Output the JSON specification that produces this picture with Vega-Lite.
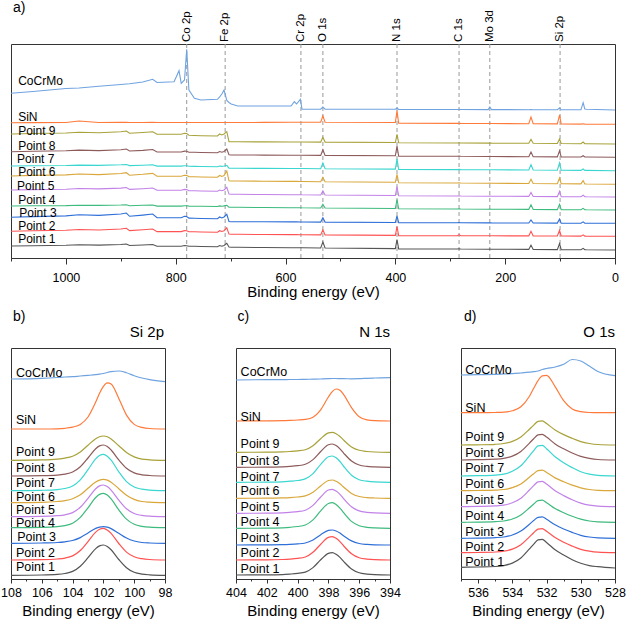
{
"$schema": "https://vega.github.io/schema/vega-lite/v6.json",
"padding": {"left": 0, "top": 0, "right": 0, "bottom": 0},
"background": "white",
"config": {
  "font": "Liberation Sans",
  "view": {"stroke": "#333", "strokeWidth": 1},
  "axis": {"grid": false, "domainColor": "#333", "tickColor": "#333", "labelColor": "#000", "titleColor": "#000", "labelFontSize": 12.5, "titleFontSize": 15, "titleFontWeight": "normal", "labelFont": "Liberation Sans", "titleFont": "Liberation Sans", "labelOverlap": false, "labelFlush": false, "labelBound": false, "format": "d", "tickCount": 60},
  "text": {"font": "Liberation Sans", "color": "#000"}
},
"datasets": {
  "a": [
    {"e":1100,"CoCrMo":164.7,"SiN":135.3,"P9":124,"P8":106.3,"P7":92,"P6":82,"P5":68,"P4":52,"P3":40.7,"P2":26.7,"P1":12},
    {"e":1060,"CoCrMo":166.5,"SiN":135.4,"P9":124.5,"P8":106.8,"P7":92.3,"P6":82.6,"P5":68.4,"P4":52.2,"P3":41.4,"P2":27.2,"P1":12.3},
    {"e":1000,"CoCrMo":169.5,"SiN":135.5,"P9":125,"P8":107.2,"P7":92.5,"P6":83.1,"P5":68.8,"P4":52.4,"P3":42.1,"P2":27.7,"P1":12.7},
    {"e":976,"CoCrMo":170,"SiN":137,"P9":125.8,"P8":107.9,"P7":92.9,"P6":84,"P5":69.5,"P4":52.8,"P3":43.3,"P2":28.5,"P1":13.2},
    {"e":940,"CoCrMo":171.8,"SiN":135.5,"P9":125.3,"P8":107.4,"P7":92.6,"P6":83.4,"P5":69.1,"P4":52.6,"P3":42.6,"P2":28,"P1":12.9},
    {"e":900,"CoCrMo":173.5,"SiN":135.6,"P9":126.3,"P8":108.3,"P7":93.2,"P6":84.5,"P5":69.9,"P4":53,"P3":44,"P2":29,"P1":13.5},
    {"e":890,"CoCrMo":174,"SiN":135.6,"P9":127,"P8":109,"P7":93.5,"P6":85.3,"P5":70.5,"P4":53.3,"P3":45,"P2":29.7,"P1":14},
    {"e":884,"CoCrMo":174.3,"SiN":135.5,"P9":124.7,"P8":107,"P7":92.4,"P6":82.8,"P5":68.6,"P4":52.3,"P3":41.7,"P2":27.4,"P1":12.5},
    {"e":860,"CoCrMo":176,"SiN":135.5,"P9":125.5,"P8":107.6,"P7":92.8,"P6":83.7,"P5":69.3,"P4":52.7,"P3":42.9,"P2":28.2,"P1":13},
    {"e":842,"CoCrMo":178.7,"SiN":135.6,"P9":126.3,"P8":108.5,"P7":93.2,"P6":84.6,"P5":70,"P4":53,"P3":44,"P2":29,"P1":13.5},
    {"e":834,"CoCrMo":175.5,"SiN":135.5,"P9":123.7,"P8":106,"P7":91.9,"P6":81.7,"P5":67.8,"P4":51.9,"P3":40.3,"P2":26.4,"P1":11.8},
    {"e":803,"CoCrMo":176.3,"SiN":135.5,"P9":123.7,"P8":106,"P7":91.9,"P6":81.7,"P5":67.8,"P4":51.9,"P3":40.3,"P2":26.4,"P1":11.8},
    {"e":794,"CoCrMo":187.3,"SiN":135.5,"P9":123.7,"P8":106,"P7":91.9,"P6":81.7,"P5":67.8,"P4":51.9,"P3":40.3,"P2":26.4,"P1":11.8},
    {"e":790,"CoCrMo":174.7,"SiN":135.5,"P9":123.7,"P8":106,"P7":91.9,"P6":81.7,"P5":67.8,"P4":51.9,"P3":40.3,"P2":26.4,"P1":11.8},
    {"e":784,"CoCrMo":178,"SiN":135.5,"P9":124.7,"P8":106.9,"P7":92.3,"P6":82.8,"P5":68.6,"P4":52.3,"P3":41.7,"P2":27.4,"P1":12.5},
    {"e":780,"CoCrMo":208.7,"SiN":135.5,"P9":124.5,"P8":106.7,"P7":92.2,"P6":82.6,"P5":68.4,"P4":52.2,"P3":41.4,"P2":27.2,"P1":12.3},
    {"e":776,"CoCrMo":168,"SiN":135.5,"P9":122.7,"P8":105.8,"P7":91.7,"P6":81.3,"P5":67.3,"P4":51.9,"P3":39.9,"P2":26.3,"P1":11.8},
    {"e":766,"CoCrMo":159.7,"SiN":135.5,"P9":122.5,"P8":105.7,"P7":91.6,"P6":81.2,"P5":67.2,"P4":51.8,"P3":39.7,"P2":26.2,"P1":11.7},
    {"e":754,"CoCrMo":158,"SiN":135.5,"P9":122.3,"P8":105.5,"P7":91.5,"P6":81,"P5":67,"P4":51.7,"P3":39.5,"P2":26,"P1":11.5},
    {"e":724,"CoCrMo":158.7,"SiN":135.5,"P9":122,"P8":105.2,"P7":91.3,"P6":80.7,"P5":66.7,"P4":51.5,"P3":39.2,"P2":25.7,"P1":11.3},
    {"e":720,"CoCrMo":161,"SiN":135.5,"P9":124,"P8":106.5,"P7":92,"P6":82.5,"P5":68,"P4":52.1,"P3":41,"P2":27.3,"P1":12.5},
    {"e":716,"CoCrMo":164,"SiN":135.5,"P9":123,"P8":105.8,"P7":91.6,"P6":81.5,"P5":67.3,"P4":51.7,"P3":40,"P2":26.5,"P1":11.8},
    {"e":712,"CoCrMo":168,"SiN":135.5,"P9":124,"P8":106.5,"P7":92,"P6":82.5,"P5":68,"P4":52.1,"P3":41,"P2":27.3,"P1":12.5},
    {"e":707,"CoCrMo":157.5,"SiN":135.5,"P9":126.3,"P8":109,"P7":92.7,"P6":87,"P5":70.7,"P4":52.7,"P3":43.7,"P2":30.3,"P1":14.7},
    {"e":703,"CoCrMo":155.5,"SiN":135.5,"P9":116.3,"P8":103.2,"P7":89.8,"P6":77.2,"P5":63.9,"P4":50.8,"P3":36.5,"P2":23.9,"P1":10.9},
    {"e":699,"CoCrMo":154,"SiN":135.5,"P9":116.2,"P8":103,"P7":89.7,"P6":77,"P5":63.7,"P4":50.7,"P3":36.3,"P2":23.7,"P1":10.7},
    {"e":687,"CoCrMo":152,"SiN":135.5,"P9":116.2,"P8":103,"P7":89.7,"P6":77,"P5":63.7,"P4":50.7,"P3":36.3,"P2":23.7,"P1":10.7},
    {"e":640,"CoCrMo":152,"SiN":135.6,"P9":116.1,"P8":102.9,"P7":89.6,"P6":76.8,"P5":63.5,"P4":50.5,"P3":36.2,"P2":23.5,"P1":10.5},
    {"e":590,"CoCrMo":152,"SiN":135.8,"P9":116,"P8":102.8,"P7":89.5,"P6":76.6,"P5":63.3,"P4":50.3,"P3":36.1,"P2":23.4,"P1":10.3},
    {"e":584,"CoCrMo":156.3,"SiN":135.8,"P9":116,"P8":102.8,"P7":89.5,"P6":76.6,"P5":63.3,"P4":50.3,"P3":36.1,"P2":23.4,"P1":10.3},
    {"e":580,"CoCrMo":154,"SiN":135.8,"P9":116,"P8":102.8,"P7":89.5,"P6":76.6,"P5":63.3,"P4":50.3,"P3":36.1,"P2":23.4,"P1":10.3},
    {"e":573,"CoCrMo":158.7,"SiN":135.8,"P9":116,"P8":102.8,"P7":89.5,"P6":76.5,"P5":63.3,"P4":50.3,"P3":36,"P2":23.3,"P1":10.2},
    {"e":570,"CoCrMo":148.7,"SiN":135.8,"P9":116,"P8":102.8,"P7":89.5,"P6":76.5,"P5":63.2,"P4":50.2,"P3":36,"P2":23.3,"P1":10.2},
    {"e":536,"CoCrMo":148.8,"SiN":135.8,"P9":115.9,"P8":102.6,"P7":89.3,"P6":76.3,"P5":63,"P4":50,"P3":35.9,"P2":23.1,"P1":10},
    {"e":532,"CoCrMo":151,"SiN":142,"P9":120.7,"P8":108.3,"P7":95,"P6":80.6,"P5":67,"P4":53.7,"P3":40.2,"P2":28.1,"P1":16},
    {"e":528,"CoCrMo":148.8,"SiN":135.7,"P9":115.9,"P8":102.6,"P7":89.3,"P6":76.3,"P5":63,"P4":50,"P3":35.9,"P2":23.1,"P1":10},
    {"e":400,"CoCrMo":148.7,"SiN":135.5,"P9":115.5,"P8":102.2,"P7":88.9,"P6":75.7,"P5":62.5,"P4":49.5,"P3":35.5,"P2":22.6,"P1":9.4},
    {"e":397,"CoCrMo":150,"SiN":147.5,"P9":123.7,"P8":111.9,"P7":99.2,"P6":83.7,"P5":71.5,"P4":58.5,"P3":42.2,"P2":31.3,"P1":18.4},
    {"e":394,"CoCrMo":148.6,"SiN":134.8,"P9":115.2,"P8":101.9,"P7":88.6,"P6":75.3,"P5":62.2,"P4":49.2,"P3":35.3,"P2":22.4,"P1":9.1},
    {"e":287,"CoCrMo":148.5,"SiN":134.6,"P9":115,"P8":101.7,"P7":88.4,"P6":75,"P5":62,"P4":49,"P3":35.2,"P2":22.3,"P1":9},
    {"e":284,"CoCrMo":148.6,"SiN":134.7,"P9":115.3,"P8":102,"P7":88.6,"P6":75.3,"P5":62.3,"P4":49.3,"P3":35.4,"P2":23.3,"P1":9.2},
    {"e":281,"CoCrMo":148.5,"SiN":134.6,"P9":115,"P8":101.7,"P7":88.4,"P6":75,"P5":62,"P4":49,"P3":35.2,"P2":22.3,"P1":9},
    {"e":231,"CoCrMo":148.4,"SiN":134.5,"P9":114.9,"P8":101.5,"P7":88.2,"P6":74.8,"P5":61.8,"P4":48.8,"P3":35.1,"P2":22.2,"P1":8.8},
    {"e":228,"CoCrMo":151,"SiN":134.6,"P9":115,"P8":101.6,"P7":88.3,"P6":75,"P5":62,"P4":49,"P3":35.2,"P2":22.3,"P1":8.9},
    {"e":225,"CoCrMo":148.4,"SiN":134.5,"P9":114.9,"P8":101.5,"P7":88.2,"P6":74.8,"P5":61.8,"P4":48.8,"P3":35.1,"P2":22.2,"P1":8.8},
    {"e":157,"CoCrMo":148.3,"SiN":134.3,"P9":114.7,"P8":101.3,"P7":88,"P6":74.5,"P5":61.6,"P4":48.6,"P3":35,"P2":22.1,"P1":8.6},
    {"e":153,"CoCrMo":148.5,"SiN":141,"P9":118.7,"P8":106,"P7":93.3,"P6":78.8,"P5":65.6,"P4":53.3,"P3":38,"P2":26.8,"P1":12.9},
    {"e":149,"CoCrMo":148.3,"SiN":134.3,"P9":114.7,"P8":101.3,"P7":88,"P6":74.5,"P5":61.6,"P4":48.6,"P3":35,"P2":22.1,"P1":8.6},
    {"e":105,"CoCrMo":148.3,"SiN":134.1,"P9":114.5,"P8":101.1,"P7":87.8,"P6":74.3,"P5":61.4,"P4":48.4,"P3":34.9,"P2":22,"P1":8.4},
    {"e":101,"CoCrMo":150,"SiN":142.8,"P9":119,"P8":107.1,"P7":95.1,"P6":80,"P5":66.7,"P4":53.7,"P3":38.9,"P2":27.7,"P1":14.4},
    {"e":98,"CoCrMo":148.2,"SiN":134.1,"P9":114.5,"P8":101.1,"P7":87.8,"P6":74.3,"P5":61.4,"P4":48.4,"P3":34.9,"P2":22,"P1":8.4},
    {"e":62,"CoCrMo":148.2,"SiN":133.9,"P9":114.3,"P8":101,"P7":87.6,"P6":74.1,"P5":61.3,"P4":48.3,"P3":34.8,"P2":21.9,"P1":8.3},
    {"e":58,"CoCrMo":155.3,"SiN":134.3,"P9":116,"P8":102.3,"P7":89,"P6":77.4,"P5":62.8,"P4":49.6,"P3":36.1,"P2":23.2,"P1":9.6},
    {"e":55,"CoCrMo":149,"SiN":133.9,"P9":114.3,"P8":101,"P7":87.6,"P6":74.1,"P5":61.3,"P4":48.3,"P3":34.8,"P2":21.9,"P1":8.3},
    {"e":52,"CoCrMo":148.8,"SiN":133.8,"P9":114.3,"P8":101,"P7":87.6,"P6":74,"P5":61.2,"P4":48.2,"P3":34.8,"P2":21.8,"P1":8.2},
    {"e":0,"CoCrMo":148,"SiN":133.7,"P9":114,"P8":100.7,"P7":87.3,"P6":73.7,"P5":61,"P4":48,"P3":34.7,"P2":21.7,"P1":8}
  ],
  "b": [
    {"e":108,"CoCrMo":200,"SiN":150,"P9":118.7,"P8":103,"P7":88.3,"P6":76.3,"P5":62.3,"P4":51.3,"P3":35.7,"P2":19,"P1":3.7},
    {"e":106,"CoCrMo":200.7,"SiN":150,"P9":119.1,"P8":103.3,"P7":88.7,"P6":76.6,"P5":62.6,"P4":51.6,"P3":36,"P2":19.3,"P1":4},
    {"e":105,"CoCrMo":201.5,"SiN":150.2,"P9":119.9,"P8":103.9,"P7":89.4,"P6":77.5,"P5":63.3,"P4":52.3,"P3":36.5,"P2":20,"P1":4.6},
    {"e":104.5,"CoCrMo":202,"SiN":150.7,"P9":120.9,"P8":104.9,"P7":90.5,"P6":78.4,"P5":64.2,"P4":53.4,"P3":37.2,"P2":20.9,"P1":5.5},
    {"e":104,"CoCrMo":202.3,"SiN":151.9,"P9":122.8,"P8":107,"P7":93,"P6":80.3,"P5":66.4,"P4":55.8,"P3":38.5,"P2":23.1,"P1":7.6},
    {"e":103.5,"CoCrMo":203,"SiN":154.6,"P9":127,"P8":112.3,"P7":99.2,"P6":84.2,"P5":71.8,"P4":61.6,"P3":41.4,"P2":28.5,"P1":12.8},
    {"e":103,"CoCrMo":203.6,"SiN":162,"P9":133.8,"P8":121,"P7":109.4,"P6":90.7,"P5":80.7,"P4":71.2,"P3":46,"P2":37.4,"P1":21.3},
    {"e":102.5,"CoCrMo":204.3,"SiN":176.9,"P9":140.3,"P8":130.3,"P7":120.2,"P6":97,"P5":90.2,"P4":81.5,"P3":50.6,"P2":46.9,"P1":30.4},
    {"e":102.25,"CoCrMo":204.8,"SiN":185.7,"P9":142.3,"P8":133.1,"P7":123.5,"P6":98.9,"P5":93.1,"P4":84.6,"P3":51.9,"P2":49.7,"P1":33.1},
    {"e":102,"CoCrMo":205.5,"SiN":192.6,"P9":143,"P8":134,"P7":124.6,"P6":99.6,"P5":94,"P4":85.6,"P3":52.4,"P2":50.7,"P1":34},
    {"e":101.75,"CoCrMo":206.5,"SiN":196.1,"P9":142.3,"P8":132.5,"P7":122.8,"P6":98.9,"P5":92.4,"P4":83.9,"P3":51.9,"P2":49.1,"P1":32.5},
    {"e":101.5,"CoCrMo":207.3,"SiN":194.9,"P9":140.1,"P8":129,"P7":118.8,"P6":96.8,"P5":88.9,"P4":80.1,"P3":50.4,"P2":45.6,"P1":29.2},
    {"e":101,"CoCrMo":208,"SiN":180.6,"P9":133.3,"P8":119.1,"P7":107.2,"P6":90.3,"P5":78.8,"P4":69.1,"P3":45.7,"P2":35.5,"P1":19.5},
    {"e":100.5,"CoCrMo":206.3,"SiN":163.9,"P9":126.5,"P8":110.8,"P7":97.4,"P6":83.8,"P5":70.2,"P4":59.9,"P3":41,"P2":26.9,"P1":11.3},
    {"e":100,"CoCrMo":203.3,"SiN":154.6,"P9":122.1,"P8":106.1,"P7":92,"P6":79.6,"P5":65.5,"P4":54.7,"P3":38,"P2":22.2,"P1":6.7},
    {"e":99.5,"CoCrMo":201,"SiN":151.6,"P9":119.9,"P8":104.2,"P7":89.8,"P6":77.5,"P5":63.6,"P4":52.7,"P3":36.5,"P2":20.3,"P1":4.9},
    {"e":99,"CoCrMo":199.3,"SiN":150.5,"P9":119.2,"P8":103.5,"P7":88.8,"P6":76.8,"P5":62.8,"P4":51.8,"P3":36,"P2":19.5,"P1":4.2},
    {"e":98,"CoCrMo":197.3,"SiN":150,"P9":118.7,"P8":103,"P7":88.3,"P6":76.3,"P5":62.3,"P4":51.3,"P3":35.7,"P2":19,"P1":3.7}
  ],
  "c": [
    {"e":404,"CoCrMo":199,"SiN":158,"P9":126.7,"P8":111.7,"P7":96.7,"P6":80.7,"P5":65.7,"P4":50.7,"P3":34,"P2":19,"P1":4},
    {"e":402,"CoCrMo":199.3,"SiN":158.1,"P9":126.8,"P8":111.8,"P7":96.8,"P6":80.8,"P5":65.8,"P4":50.8,"P3":34.1,"P2":19.1,"P1":4.1},
    {"e":401,"CoCrMo":199.3,"SiN":158.3,"P9":127.1,"P8":112.2,"P7":97.2,"P6":81.1,"P5":66.2,"P4":51.2,"P3":34.3,"P2":19.5,"P1":4.4},
    {"e":400.5,"CoCrMo":199.5,"SiN":158.6,"P9":127.5,"P8":112.6,"P7":97.8,"P6":81.4,"P5":66.7,"P4":51.7,"P3":34.6,"P2":19.9,"P1":4.9},
    {"e":400,"CoCrMo":199.5,"SiN":159,"P9":128.1,"P8":113.3,"P7":98.5,"P6":82,"P5":67.4,"P4":52.5,"P3":35.1,"P2":20.6,"P1":5.6},
    {"e":399.5,"CoCrMo":199.7,"SiN":159.6,"P9":129.3,"P8":114.7,"P7":100.1,"P6":83.1,"P5":68.8,"P4":54,"P3":36,"P2":22,"P1":6.9},
    {"e":399,"CoCrMo":199.8,"SiN":161.8,"P9":133.3,"P8":119.4,"P7":105.4,"P6":86.7,"P5":73.6,"P4":59.1,"P3":39,"P2":26.7,"P1":11.4},
    {"e":398.5,"CoCrMo":200,"SiN":169.2,"P9":140.3,"P8":127.5,"P7":114.6,"P6":93.1,"P5":82,"P4":68.1,"P3":44.2,"P2":34.8,"P1":19.2},
    {"e":398,"CoCrMo":200.3,"SiN":182,"P9":146.1,"P8":134.3,"P7":122.2,"P6":98.5,"P5":89,"P4":75.5,"P3":48.6,"P2":41.6,"P1":25.6},
    {"e":397.75,"CoCrMo":200.5,"SiN":187.4,"P9":146.7,"P8":135,"P7":123,"P6":99,"P5":89.7,"P4":76.3,"P3":49,"P2":42.3,"P1":26.3},
    {"e":397.5,"CoCrMo":200.5,"SiN":190,"P9":145.3,"P8":133.4,"P7":121.2,"P6":97.7,"P5":88,"P4":74.5,"P3":48,"P2":40.7,"P1":24.7},
    {"e":397.25,"CoCrMo":200.3,"SiN":188.7,"P9":142.5,"P8":130.1,"P7":117.5,"P6":95.2,"P5":84.7,"P4":70.9,"P3":45.9,"P2":37.4,"P1":21.6},
    {"e":397,"CoCrMo":200.3,"SiN":184.2,"P9":138.7,"P8":125.7,"P7":112.5,"P6":91.7,"P5":80.1,"P4":66.1,"P3":43,"P2":33,"P1":17.4},
    {"e":396.5,"CoCrMo":200.2,"SiN":171.4,"P9":132.1,"P8":118,"P7":103.8,"P6":85.6,"P5":72.2,"P4":57.6,"P3":38.1,"P2":25.3,"P1":10},
    {"e":396,"CoCrMo":200.3,"SiN":162.2,"P9":128.7,"P8":114,"P7":99.3,"P6":82.5,"P5":68.1,"P4":53.3,"P3":35.5,"P2":21.3,"P1":6.2},
    {"e":395.5,"CoCrMo":200.7,"SiN":159.1,"P9":127.5,"P8":112.6,"P7":97.8,"P6":81.4,"P5":66.7,"P4":51.7,"P3":34.6,"P2":19.9,"P1":4.9},
    {"e":395,"CoCrMo":201,"SiN":158.3,"P9":127,"P8":112.1,"P7":97.1,"P6":81,"P5":66.1,"P4":51.1,"P3":34.2,"P2":19.3,"P1":4.3},
    {"e":394,"CoCrMo":201.3,"SiN":158,"P9":126.7,"P8":111.7,"P7":96.7,"P6":80.7,"P5":65.7,"P4":50.7,"P3":34,"P2":19,"P1":4}
  ],
  "d": [
    {"e":537,"CoCrMo":204,"SiN":166.3,"P9":134,"P8":119,"P7":103,"P6":88.3,"P5":72.3,"P4":56.7,"P3":40.7,"P2":26.3,"P1":11.7},
    {"e":536,"CoCrMo":204.3,"SiN":166.3,"P9":134.2,"P8":119.3,"P7":103.3,"P6":88.5,"P5":72.6,"P4":56.9,"P3":40.9,"P2":26.5,"P1":12},
    {"e":535,"CoCrMo":204.7,"SiN":166.5,"P9":134.7,"P8":119.8,"P7":103.9,"P6":88.9,"P5":73.1,"P4":57.4,"P3":41.4,"P2":27,"P1":12.5},
    {"e":534.5,"CoCrMo":205,"SiN":166.8,"P9":135.5,"P8":120.6,"P7":104.9,"P6":89.5,"P5":73.8,"P4":58,"P3":42,"P2":27.8,"P1":13.4},
    {"e":534,"CoCrMo":205.3,"SiN":168.2,"P9":137.6,"P8":122.9,"P7":107.7,"P6":91.4,"P5":76.2,"P4":60,"P3":44,"P2":29.9,"P1":15.9},
    {"e":533.5,"CoCrMo":206,"SiN":172.3,"P9":142,"P8":127.6,"P7":113.2,"P6":95.1,"P5":80.8,"P4":64.1,"P3":47.9,"P2":34.3,"P1":21},
    {"e":533,"CoCrMo":206.8,"SiN":182.8,"P9":149.8,"P8":135.9,"P7":123.2,"P6":101.8,"P5":89,"P4":71.2,"P3":54.8,"P2":42.1,"P1":30.1},
    {"e":532.75,"CoCrMo":207.3,"SiN":190.8,"P9":153.9,"P8":140.3,"P7":128.4,"P6":105.3,"P5":93.4,"P4":75,"P3":58.5,"P2":46.2,"P1":34.9},
    {"e":532.5,"CoCrMo":208,"SiN":198.3,"P9":157.6,"P8":144.2,"P7":133.1,"P6":108.4,"P5":97.2,"P4":78.3,"P3":61.7,"P2":49.9,"P1":39.2},
    {"e":532.25,"CoCrMo":209.5,"SiN":203.1,"P9":158.1,"P8":144.7,"P7":133.7,"P6":108.8,"P5":97.7,"P4":78.8,"P3":62.2,"P2":50.4,"P1":39.7},
    {"e":532,"CoCrMo":210.5,"SiN":203.6,"P9":155.4,"P8":141.9,"P7":130.3,"P6":106.5,"P5":94.9,"P4":76.3,"P3":59.8,"P2":47.7,"P1":36.6},
    {"e":531.5,"CoCrMo":212,"SiN":192.4,"P9":149.1,"P8":135.1,"P7":122.2,"P6":101.1,"P5":88.2,"P4":70.5,"P3":54.2,"P2":41.4,"P1":29.2},
    {"e":531,"CoCrMo":214.7,"SiN":178.4,"P9":144.4,"P8":130.2,"P7":116.3,"P6":97.2,"P5":83.4,"P4":66.3,"P3":50,"P2":36.7,"P1":23.9},
    {"e":530.5,"CoCrMo":219.5,"SiN":170.1,"P9":140.6,"P8":126,"P7":111.4,"P6":93.9,"P5":79.2,"P4":62.7,"P3":46.6,"P2":32.9,"P1":19.3},
    {"e":530,"CoCrMo":218,"SiN":167.4,"P9":137.4,"P8":122.6,"P7":107.3,"P6":91.2,"P5":75.9,"P4":59.8,"P3":43.7,"P2":29.7,"P1":15.7},
    {"e":529.5,"CoCrMo":213,"SiN":166.5,"P9":135.5,"P8":120.6,"P7":104.9,"P6":89.5,"P5":73.8,"P4":58,"P3":42,"P2":27.8,"P1":13.4},
    {"e":529,"CoCrMo":207.5,"SiN":166.3,"P9":134.5,"P8":119.5,"P7":103.6,"P6":88.7,"P5":72.8,"P4":57.1,"P3":41.1,"P2":26.8,"P1":12.3},
    {"e":528,"CoCrMo":203.3,"SiN":166.3,"P9":134,"P8":119,"P7":103,"P6":88.3,"P5":72.3,"P4":56.7,"P3":40.7,"P2":26.3,"P1":11}
  ],
  "pk": [
    {"e":780,"t":"Co 2p"},{"e":710,"t":"Fe 2p"},{"e":572,"t":"Cr 2p"},{"e":532,"t":"O 1s"},
    {"e":397,"t":"N 1s"},{"e":284,"t":"C 1s"},{"e":228,"t":"Mo 3d"},{"e":100,"t":"Si 2p"}
  ],
  "la": [
    {"t":"CoCrMo","e":1087,"v":177.3},{"t":"SiN","e":1087,"v":140.7},{"t":"Point 9","e":1087,"v":127.3},
    {"t":"Point 8","e":1087,"v":112.3},{"t":"Point 7","e":1089,"v":99},{"t":"Point 6","e":1087,"v":86},
    {"t":"Point 5","e":1089,"v":72},{"t":"Point 4","e":1087,"v":58.5},{"t":"Point 3","e":1085,"v":45.5},
    {"t":"Point 2","e":1087,"v":32},{"t":"Point 1","e":1087,"v":19}
  ],
  "lb": [
    {"t":"CoCrMo","e":107.68,"v":205.7},{"t":"SiN","e":107.68,"v":159},{"t":"Point 9","e":107.68,"v":127.3},
    {"t":"Point 8","e":107.68,"v":110.7},{"t":"Point 7","e":107.68,"v":96.3},{"t":"Point 6","e":107.68,"v":81.7},
    {"t":"Point 5","e":107.68,"v":69},{"t":"Point 4","e":107.68,"v":56.3},{"t":"Point 3","e":107.6,"v":41.7},
    {"t":"Point 2","e":107.68,"v":25.7},{"t":"Point 1","e":107.68,"v":11.7}
  ],
  "lc": [
    {"t":"CoCrMo","e":403.7,"v":206.7},{"t":"SiN","e":403.7,"v":162.3},{"t":"Point 9","e":403.7,"v":134.7},
    {"t":"Point 8","e":403.7,"v":118},{"t":"Point 7","e":403.7,"v":102.3},{"t":"Point 6","e":403.7,"v":88},
    {"t":"Point 5","e":403.7,"v":72.3},{"t":"Point 4","e":403.7,"v":56.7},{"t":"Point 3","e":403.7,"v":40.7},
    {"t":"Point 2","e":403.7,"v":25.7},{"t":"Point 1","e":403.7,"v":9.7}
  ],
  "ld": [
    {"t":"CoCrMo","e":536.75,"v":209},{"t":"SiN","e":536.75,"v":170.7},{"t":"Point 9","e":536.75,"v":142.3},
    {"t":"Point 8","e":536.75,"v":126.3},{"t":"Point 7","e":536.75,"v":110.7},{"t":"Point 6","e":536.75,"v":94.7},
    {"t":"Point 5","e":536.75,"v":79},{"t":"Point 4","e":536.75,"v":63.3},{"t":"Point 3","e":536.75,"v":47.3},
    {"t":"Point 2","e":536.75,"v":32.3},{"t":"Point 1","e":536.75,"v":17.3}
  ]
},
"vconcat": [
  {
    "width": 604, "height": 214,
    "layer": [
      {
        "data": {"name": "pk"},
        "mark": {"type": "rule", "color": "#999", "strokeWidth": 1, "strokeDash": [4, 3]},
        "encoding": {"x": {"field": "e", "type": "quantitative"}}
      },
      {
        "data": {"name": "a"},
        "transform": [{"fold": ["CoCrMo","SiN","P9","P8","P7","P6","P5","P4","P3","P2","P1"], "as": ["s","v"]}],
        "mark": {"type": "line", "strokeWidth": 1.1, "clip": true},
        "encoding": {
          "x": {"field": "e", "type": "quantitative", "scale": {"domain": [0, 1100], "reverse": true, "nice": false, "zero": false},
                "axis": {"values": [1100,1000,900,800,700,600,500,400,300,200,100,0], "format": "d", "labelOverlap": false, "labelFlush": false, "tickCount": 60,
                         "labelExpr": "datum.value % 200 === 0 ? datum.label : ''",
                         "tickSize": {"condition": {"test": "datum.value % 200 === 0", "value": 6}, "value": 3},
                         "labelPadding": 7, "title": "Binding energy (eV)", "titlePadding": 1}},
          "y": {"field": "v", "type": "quantitative", "scale": {"domain": [0, 214], "nice": false, "zero": false}, "axis": null},
          "color": {"field": "s", "type": "nominal", "legend": null,
                    "scale": {"domain": ["CoCrMo","SiN","P9","P8","P7","P6","P5","P4","P3","P2","P1"],
                              "range": ["#6fa3e0","#ff7a3a","#a8a23a","#8d5b5b","#3ad6cf","#d9a73a","#c282e8","#3dba7d","#2e6fd8","#ff5252","#555555"]}}
        }
      },
      {
        "data": {"name": "pk"},
        "mark": {"type": "text", "angle": 270, "align": "left", "baseline": "middle", "dx": 2, "fontSize": 11.5},
        "encoding": {"x": {"field": "e", "type": "quantitative"}, "y": {"datum": 214}, "text": {"field": "t"}}
      },
      {
        "data": {"name": "la"},
        "mark": {"type": "text", "align": "left", "baseline": "middle", "fontSize": 12},
        "encoding": {"x": {"field": "e", "type": "quantitative"}, "y": {"field": "v", "type": "quantitative"}, "text": {"field": "t"}}
      },
      {
        "data": {"values": [{}]},
        "mark": {"type": "text", "align": "left", "baseline": "alphabetic", "dx": 2, "dy": -32.5, "fontSize": 14},
        "encoding": {"x": {"datum": 1100}, "y": {"datum": 214}, "text": {"value": "a)"}}
      }
    ]
  },
  {
    "hconcat": [
      {
        "width": 154, "height": 231,
        "layer": [
          {
            "data": {"name": "b"},
            "transform": [{"fold": ["CoCrMo","SiN","P9","P8","P7","P6","P5","P4","P3","P2","P1"], "as": ["s","v"]}],
            "mark": {"type": "line", "strokeWidth": 1.2, "interpolate": "monotone", "clip": true},
            "encoding": {
              "x": {"field": "e", "type": "quantitative", "scale": {"domain": [98, 108], "reverse": true, "nice": false, "zero": false},
                    "axis": {"values": [108,107,106,105,104,103,102,101,100,99,98], "format": "d", "labelOverlap": false, "labelFlush": false, "tickCount": 60,
                             "labelExpr": "datum.value % 2 === 0 ? datum.label : ''",
                             "tickSize": {"condition": {"test": "datum.value % 2 === 0", "value": 4}, "value": 2},
                             "labelPadding": 3, "title": "Binding energy (eV)", "titlePadding": 5}},
              "y": {"field": "v", "type": "quantitative", "scale": {"domain": [0, 231], "nice": false, "zero": false}, "axis": null},
              "color": {"field": "s", "type": "nominal", "legend": null,
                        "scale": {"domain": ["CoCrMo","SiN","P9","P8","P7","P6","P5","P4","P3","P2","P1"],
                                  "range": ["#6fa3e0","#ff7a3a","#a8a23a","#8d5b5b","#3ad6cf","#d9a73a","#c282e8","#3dba7d","#2e6fd8","#ff5252","#555555"]}}
            }
          },
          {
            "data": {"name": "lb"},
            "mark": {"type": "text", "align": "left", "baseline": "middle", "fontSize": 12.5},
            "encoding": {"x": {"field": "e", "type": "quantitative"}, "y": {"field": "v", "type": "quantitative"}, "text": {"field": "t"}}
          },
          {
            "data": {"values": [{}]},
            "mark": {"type": "text", "align": "left", "baseline": "alphabetic", "dx": 2, "dy": -27.5, "fontSize": 14},
            "encoding": {"x": {"datum": 108}, "y": {"datum": 231}, "text": {"value": "b)"}}
          },
          {
            "data": {"values": [{}]},
            "mark": {"type": "text", "align": "right", "baseline": "alphabetic", "dx": -1, "dy": -10.6, "fontSize": 15},
            "encoding": {"x": {"datum": 98}, "y": {"datum": 231}, "text": {"value": "Si 2p"}}
          }
        ]
      },
      {
        "width": 154, "height": 231,
        "layer": [
          {
            "data": {"name": "c"},
            "transform": [{"fold": ["CoCrMo","SiN","P9","P8","P7","P6","P5","P4","P3","P2","P1"], "as": ["s","v"]}],
            "mark": {"type": "line", "strokeWidth": 1.2, "interpolate": "monotone", "clip": true},
            "encoding": {
              "x": {"field": "e", "type": "quantitative", "scale": {"domain": [394, 404], "reverse": true, "nice": false, "zero": false},
                    "axis": {"values": [404,403,402,401,400,399,398,397,396,395,394], "format": "d", "labelOverlap": false, "labelFlush": false, "tickCount": 60,
                             "labelExpr": "datum.value % 2 === 0 ? datum.label : ''",
                             "tickSize": {"condition": {"test": "datum.value % 2 === 0", "value": 4}, "value": 2},
                             "labelPadding": 3, "title": "Binding energy (eV)", "titlePadding": 5}},
              "y": {"field": "v", "type": "quantitative", "scale": {"domain": [0, 231], "nice": false, "zero": false}, "axis": null},
              "color": {"field": "s", "type": "nominal", "legend": null,
                        "scale": {"domain": ["CoCrMo","SiN","P9","P8","P7","P6","P5","P4","P3","P2","P1"],
                                  "range": ["#6fa3e0","#ff7a3a","#a8a23a","#8d5b5b","#3ad6cf","#d9a73a","#c282e8","#3dba7d","#2e6fd8","#ff5252","#555555"]}}
            }
          },
          {
            "data": {"name": "lc"},
            "mark": {"type": "text", "align": "left", "baseline": "middle", "fontSize": 12.5},
            "encoding": {"x": {"field": "e", "type": "quantitative"}, "y": {"field": "v", "type": "quantitative"}, "text": {"field": "t"}}
          },
          {
            "data": {"values": [{}]},
            "mark": {"type": "text", "align": "left", "baseline": "alphabetic", "dx": 1.5, "dy": -27.5, "fontSize": 14},
            "encoding": {"x": {"datum": 404}, "y": {"datum": 231}, "text": {"value": "c)"}}
          },
          {
            "data": {"values": [{}]},
            "mark": {"type": "text", "align": "right", "baseline": "alphabetic", "dx": 0, "dy": -10.6, "fontSize": 15},
            "encoding": {"x": {"datum": 394}, "y": {"datum": 231}, "text": {"value": "N 1s"}}
          }
        ]
      },
      {
        "width": 154, "height": 231,
        "layer": [
          {
            "data": {"name": "d"},
            "transform": [{"fold": ["CoCrMo","SiN","P9","P8","P7","P6","P5","P4","P3","P2","P1"], "as": ["s","v"]}],
            "mark": {"type": "line", "strokeWidth": 1.2, "interpolate": "monotone", "clip": true},
            "encoding": {
              "x": {"field": "e", "type": "quantitative", "scale": {"domain": [528, 537], "reverse": true, "nice": false, "zero": false},
                    "axis": {"values": [537,536,535,534,533,532,531,530,529,528], "format": "d", "labelOverlap": false, "labelFlush": false, "tickCount": 60,
                             "labelExpr": "datum.value % 2 === 0 ? datum.label : ''",
                             "tickSize": {"condition": {"test": "datum.value % 2 === 0", "value": 4}, "value": 2},
                             "labelPadding": 3, "title": "Binding energy (eV)", "titlePadding": 5}},
              "y": {"field": "v", "type": "quantitative", "scale": {"domain": [0, 231], "nice": false, "zero": false}, "axis": null},
              "color": {"field": "s", "type": "nominal", "legend": null,
                        "scale": {"domain": ["CoCrMo","SiN","P9","P8","P7","P6","P5","P4","P3","P2","P1"],
                                  "range": ["#6fa3e0","#ff7a3a","#a8a23a","#8d5b5b","#3ad6cf","#d9a73a","#c282e8","#3dba7d","#2e6fd8","#ff5252","#555555"]}}
            }
          },
          {
            "data": {"name": "ld"},
            "mark": {"type": "text", "align": "left", "baseline": "middle", "fontSize": 12.5},
            "encoding": {"x": {"field": "e", "type": "quantitative"}, "y": {"field": "v", "type": "quantitative"}, "text": {"field": "t"}}
          },
          {
            "data": {"values": [{}]},
            "mark": {"type": "text", "align": "left", "baseline": "alphabetic", "dx": 3, "dy": -27.5, "fontSize": 14},
            "encoding": {"x": {"datum": 537}, "y": {"datum": 231}, "text": {"value": "d)"}}
          },
          {
            "data": {"values": [{}]},
            "mark": {"type": "text", "align": "right", "baseline": "alphabetic", "dx": 0, "dy": -10.6, "fontSize": 15},
            "encoding": {"x": {"datum": 528}, "y": {"datum": 231}, "text": {"value": "O 1s"}}
          }
        ]
      }
    ],
    "spacing": 71,
    "bounds": "flush"
  }
],
"spacing": 90,
"bounds": "flush"
}
